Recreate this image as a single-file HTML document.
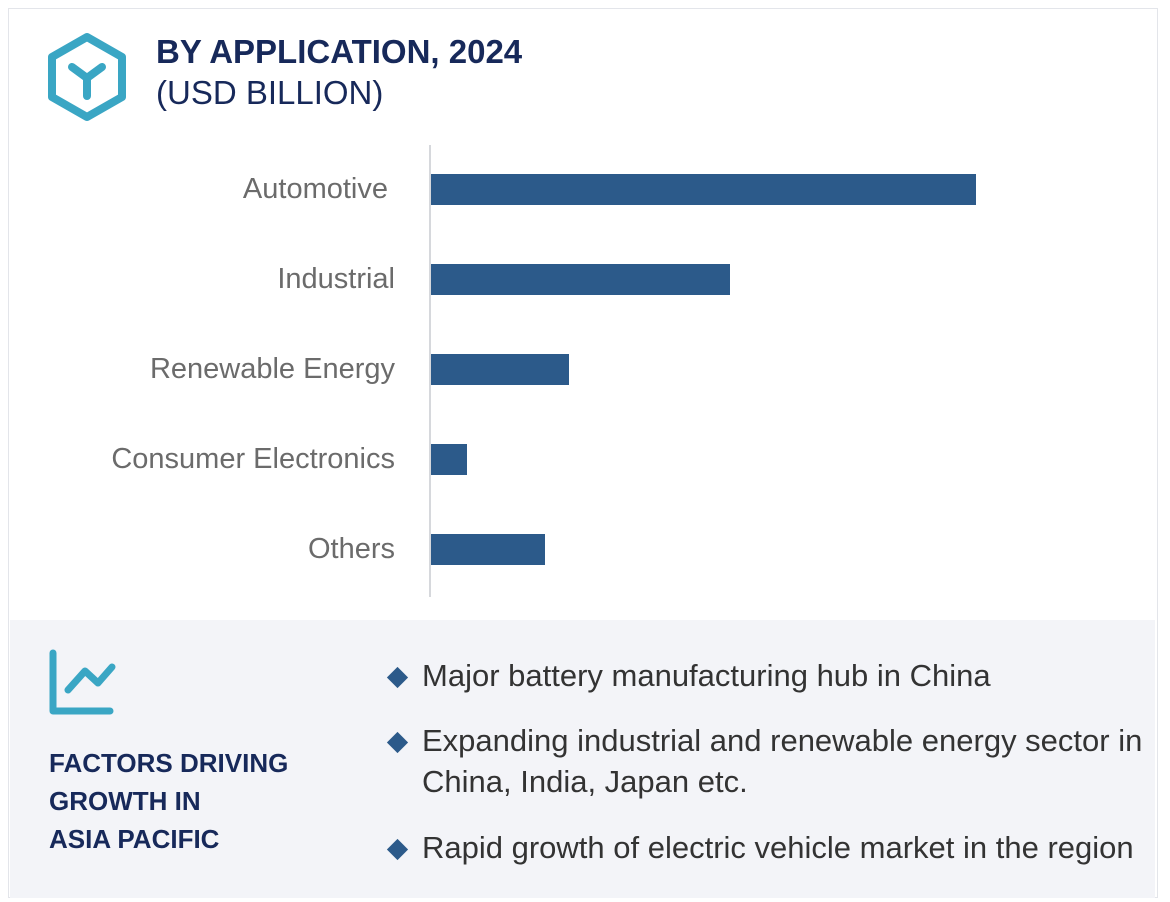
<!DOCTYPE html>
<html><head><meta charset="utf-8"><style>
body{margin:0;width:1170px;height:902px;background:#fff;font-family:"Liberation Sans",sans-serif;position:relative;overflow:hidden}
.card{position:absolute;left:8px;top:8px;width:1150px;height:890px;border:1px solid #e3e5ea;box-sizing:border-box}
.t1{position:absolute;left:156px;top:33px;font-size:33px;font-weight:bold;color:#17295a}
.t2{position:absolute;left:156px;top:74px;font-size:33px;color:#17295a}
.lab{position:absolute;right:775px;font-size:29px;color:#6b6b6b;white-space:nowrap}
.bot{position:absolute;left:10px;top:620px;width:1145px;height:278px;background:#f3f4f8}
.fac{position:absolute;left:49px;top:744px;font-size:26px;font-weight:bold;color:#17295a;line-height:38px}
.bl{position:absolute;left:422px;font-size:31px;color:#333;line-height:41px}
.dia{position:absolute;left:390px;width:15px;height:15px;background:#2c5a8a;transform:rotate(45deg)}
</style></head><body>
<div class="card"></div>
<svg style="position:absolute;left:0;top:0" width="160" height="140">
<polygon points="87,37 122,57 122,97 87,117 52,97 52,57" fill="none" stroke="#3aa6c4" stroke-width="8" stroke-linejoin="round"/>
<path d="M72,67 L87,78 L102,67 M87,78 L87,96" fill="none" stroke="#3aa6c4" stroke-width="8" stroke-linecap="round" stroke-linejoin="round"/>
</svg>
<div class="t1">BY APPLICATION, 2024</div>
<div class="t2">(USD BILLION)</div>
<svg id="chart" style="position:absolute;left:0;top:0" width="1170" height="620"></svg>
<div id="labels"></div>
<div class="bot"></div>
<svg style="position:absolute;left:0;top:620px" width="140" height="110">
<path d="M53,33 L53,91 L110,91" fill="none" stroke="#3aa6c4" stroke-width="7" stroke-linecap="round" stroke-linejoin="round"/>
<path d="M68,70 L85,51 L98,63 L112,47" fill="none" stroke="#3aa6c4" stroke-width="7" stroke-linecap="round" stroke-linejoin="round"/>
</svg>
<div class="fac">FACTORS DRIVING<br>GROWTH IN<br>ASIA PACIFIC</div>
<div class="dia" style="top:670px"></div>
<div class="bl" style="top:655px">Major battery manufacturing hub in China</div>
<div class="dia" style="top:735px"></div>
<div class="bl" style="top:720px">Expanding industrial and renewable energy sector in<br>China, India, Japan etc.</div>
<div class="dia" style="top:842px"></div>
<div class="bl" style="top:827px">Rapid growth of electric vehicle market in the region</div>
<script>
const categories=["Automotive","Industrial","Renewable Energy","Consumer Electronics","Others"];
const values=[54.6,30.0,13.9,3.7,11.5];
const svg=document.getElementById('chart');
const NS="http://www.w3.org/2000/svg";
const x0=430, pxPerUnit=10, y0=174, step=90, bh=31;
const xs=v=>x0+v*pxPerUnit;
const ys=i=>y0+i*step;
const ax=document.createElementNS(NS,'line');
ax.setAttribute('x1',x0);ax.setAttribute('x2',x0);ax.setAttribute('y1',145);ax.setAttribute('y2',597);
ax.setAttribute('stroke','#d6d8dc');ax.setAttribute('stroke-width','2');


svg.appendChild(ax);
const lw=document.getElementById('labels');
categories.forEach((c,i)=>{
 const r=document.createElementNS(NS,'rect');
 r.setAttribute('x',x0+1);r.setAttribute('y',ys(i));r.setAttribute('width',xs(values[i])-x0-1);r.setAttribute('height',bh);r.setAttribute('fill','#2c5a8a');
 
 
 svg.appendChild(r);
 const d=document.createElement('div');
 d.className='lab';d.style.top=(ys(i)-1)+'px';d.textContent=c;
 if(i==0)d.style.right='782px';
 
 
 lw.appendChild(d);
});
</script>
</body></html>
